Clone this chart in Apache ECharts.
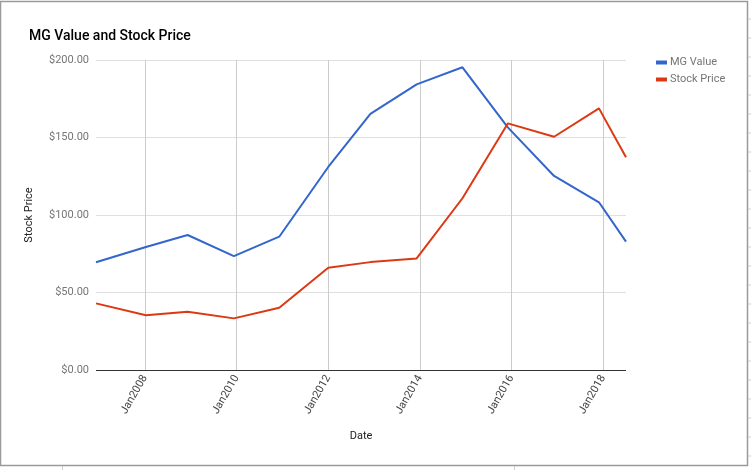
<!DOCTYPE html>
<html>
<head>
<meta charset="utf-8">
<script src="https://cdn.jsdelivr.net/npm/echarts@6/dist/echarts.min.js"></script>
<style>
html,body{margin:0;padding:0;background:#fff;}
#chart{width:751px;height:470px;}
</style>
</head>
<body>
<div id="chart"></div>
<script>
// Dates as fractional years
const dates = [2006.93, 2008.02, 2008.93, 2009.94, 2010.93, 2012.0, 2012.92, 2013.93, 2014.93, 2015.92, 2016.93, 2017.91, 2018.5];
const mgValue = [69.5, 79.4, 87.1, 73.5, 86.0, 131.0, 165.2, 184.3, 195.3, 156.5, 125.2, 108.2, 82.8];
const stockPrice = [43.0, 35.3, 37.6, 33.3, 40.2, 66.0, 69.6, 72.0, 110.8, 159.1, 150.5, 168.8, 137.2];
const xTicks = [2008, 2010, 2012, 2014, 2016, 2018];
const yTicks = [0, 50, 100, 150, 200];

const FONT = 'Roboto, Arial, sans-serif';
const chart = echarts.init(document.getElementById('chart'), null, {renderer: 'canvas'});

const frameTicks = [];
for (let y = 19; y <= 456; y += 19) {
  frameTicks.push({type: 'line', silent: true, shape: {x1: 748, y1: y, x2: 751, y2: y}, style: {stroke: '#cccccc', lineWidth: 1}});
}
frameTicks.push({type: 'line', silent: true, shape: {x1: 62.5, y1: 466, x2: 62.5, y2: 470}, style: {stroke: '#cccccc', lineWidth: 1}});
frameTicks.push({type: 'line', silent: true, shape: {x1: 514.5, y1: 466, x2: 514.5, y2: 470}, style: {stroke: '#cccccc', lineWidth: 1}});

const option = {
  animation: false,
  backgroundColor: '#ffffff',
  textStyle: {fontFamily: FONT},
  title: {
    text: 'MG Value and Stock Price',
    left: 24, top: 24,
    textStyle: {fontFamily: FONT, fontSize: 14, fontWeight: 500, color: '#000000'}
  },
  graphic: [
    {type: 'rect', silent: true, shape: {x: 0.5, y: 1.5, width: 747, height: 464}, style: {fill: null, stroke: '#9a9a9a', lineWidth: 1.5}},
    ...frameTicks
  ],
  legend: {
    orient: 'vertical',
    left: 651, top: 52,
    itemWidth: 11, itemHeight: 4, itemGap: 6,
    icon: 'rect',
    textStyle: {fontFamily: FONT, fontSize: 11, color: '#757575', padding: [0, 0, 0, -2]},
    data: ['MG Value', 'Stock Price']
  },
  grid: {left: 96, right: 125, top: 60, bottom: 100, containLabel: false},
  xAxis: {
    type: 'value',
    min: dates[0], max: dates[dates.length - 1],
    name: 'Date', nameLocation: 'middle', nameGap: 61,
    nameTextStyle: {fontFamily: FONT, fontSize: 11, color: '#222222'},
    axisLine: {show: false},
    axisTick: {show: false, customValues: xTicks},
    splitLine: {show: false},
    axisLabel: {
      customValues: xTicks,
      rotate: 60, margin: 6,
      fontFamily: FONT, fontSize: 11, color: '#444444',
      formatter: v => 'Jan' + Math.round(v)
    }
  },
  yAxis: {
    type: 'value',
    min: yTicks[0], max: yTicks[yTicks.length - 1], interval: 50,
    name: 'Stock Price', nameLocation: 'middle', nameGap: 61,
    nameTextStyle: {fontFamily: FONT, fontSize: 11, color: '#222222'},
    axisLine: {show: false},
    axisTick: {show: false},
    splitLine: {show: true, lineStyle: {color: ['#333333', '#e0e0e0', '#e0e0e0', '#e0e0e0', '#e0e0e0'], width: 1}},
    axisLabel: {
      margin: 7, fontFamily: FONT, fontSize: 11, color: '#757575',
      formatter: v => '$' + v.toFixed(2)
    }
  },
  series: [
    {
      name: 'gridX', type: 'line', data: [], z: 1, silent: true,
      markLine: {
        silent: true, symbol: 'none', z: 1, animation: false,
        label: {show: false},
        lineStyle: {color: '#cccccc', width: 1, type: 'solid'},
        data: xTicks.map(t => ({xAxis: t}))
      }
    },
    {
      name: 'MG Value', type: 'line', z: 3,
      data: dates.map((d, i) => [d, mgValue[i]]),
      showSymbol: false, symbol: 'none',
      lineStyle: {color: '#3366cc', width: 2},
      itemStyle: {color: '#3366cc'}
    },
    {
      name: 'Stock Price', type: 'line', z: 3,
      data: dates.map((d, i) => [d, stockPrice[i]]),
      showSymbol: false, symbol: 'none',
      lineStyle: {color: '#dc3912', width: 2},
      itemStyle: {color: '#dc3912'}
    }
  ]
};
chart.setOption(option);
</script>
</body>
</html>
